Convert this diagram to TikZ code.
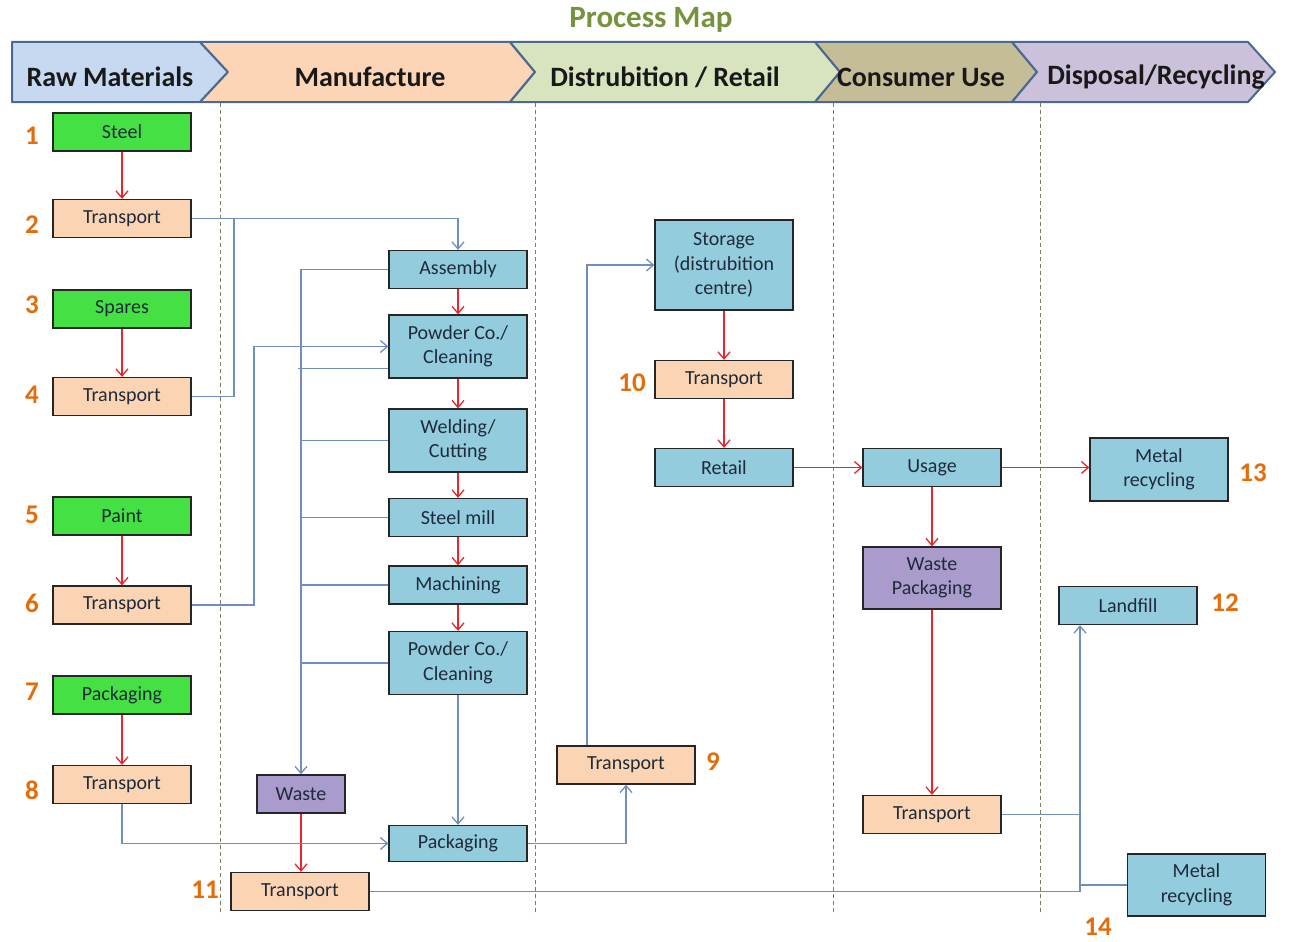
\documentclass[tikz,border=0pt]{standalone}
\usepackage{fontspec}
\setmainfont{Carlito}
\usetikzlibrary{arrows.meta,calc}
\definecolor{bxblue}{HTML}{93CDDD}
\definecolor{bxpeach}{HTML}{FBD4B4}
\definecolor{bxgreen}{HTML}{44E044}
\definecolor{bxpurple}{HTML}{A99BCC}
\definecolor{lnblue}{HTML}{6F8FBF}
\definecolor{lnred}{HTML}{E8262B}
\definecolor{numor}{HTML}{E46C0A}
\definecolor{titgreen}{HTML}{76923C}
\definecolor{hdblue}{HTML}{C6D9F1}
\definecolor{hdpeach}{HTML}{FBD5B5}
\definecolor{hdgreen}{HTML}{D7E4BD}
\definecolor{hdtan}{HTML}{C4BD97}
\definecolor{hdlav}{HTML}{CCC1DA}
\definecolor{hdline}{HTML}{4A6890}
\definecolor{txt}{HTML}{1F2A3A}
\definecolor{dashc}{HTML}{7F7F60}
\tikzset{
  bx/.style={draw=black!85, line width=1.3pt, text=txt, align=center, inner sep=2pt,
    font=\fontsize{20}{24.5}\selectfont, minimum width=138, minimum height=38},
  bblue/.style={bx, fill=bxblue},
  bpeach/.style={bx, fill=bxpeach},
  bgreen/.style={bx, fill=bxgreen},
  bpurple/.style={bx, fill=bxpurple},
  num/.style={text=numor, font=\fontsize{27}{27}\selectfont\bfseries, inner sep=0pt},
  hdtext/.style={text=black!90, font=\fontsize{28}{28}\selectfont\bfseries, inner sep=0pt},
  hd/.style={draw=hdline, line width=2pt, line join=round},
  bl/.style={draw=lnblue, line width=1.5pt},
  rd/.style={draw=lnred, line width=1.5pt},
  arr/.style={-{Straight Barb[length=7pt,width=12pt,line width=1.3pt]}},
  vdash/.style={draw=dashc, line width=1pt, dash pattern=on 4pt off 3pt}
}
\begin{document}
\begin{tikzpicture}[x=1pt,y=-1pt]
\useasboundingbox (0,0) rectangle (1290,942);
% title
\node[text=titgreen, font=\fontsize{31}{31}\selectfont\bfseries] (title) at (651,20) {Process Map};
% header chevrons
\path[hd, fill=hdblue] (12,42) -- (200,42) -- (228,72) -- (200,102) -- (12,102) -- cycle;
\path[hd, fill=hdpeach] (200,42) -- (510,42) -- (535,72) -- (510,102) -- (200,102) -- (228,72) -- cycle;
\path[hd, fill=hdgreen] (510,42) -- (815,42) -- (840,72) -- (815,102) -- (510,102) -- (535,72) -- cycle;
\path[hd, fill=hdtan] (815,42) -- (1012,42) -- (1037,72) -- (1012,102) -- (815,102) -- (840,72) -- cycle;
\path[hd, fill=hdlav] (1012,42) -- (1248,42) -- (1275,72) -- (1248,102) -- (1012,102) -- (1037,72) -- cycle;
\node[hdtext] (h1) at (110,77) {Raw Materials};
\node[hdtext] (h2) at (370,77) {Manufacture};
\node[hdtext] (h3) at (665,77) {Distrubition / Retail};
\node[hdtext] (h4) at (921,77) {Consumer Use};
\node[hdtext] (h5) at (1156,77) {Disposal/Recycling};
% dashed separators
\foreach \x in {220,535,833,1040} \draw[vdash] (\x,103) -- (\x,915);
% left column
\node[bgreen] (steel) at (122,132) {Steel};
\node[bpeach] (t2) at (122,218.5) {Transport};
\node[bgreen] (spares) at (122,309) {Spares};
\node[bpeach] (t4) at (122,396.5) {Transport};
\node[bgreen] (paint) at (122,516) {Paint};
\node[bpeach] (t6) at (122,605) {Transport};
\node[bgreen] (pack7) at (122,695) {Packaging};
\node[bpeach] (t8) at (122,784.5) {Transport};
\node[num] (n1) at (32,136) {1};
\node[num] (n2) at (32,225) {2};
\node[num] (n3) at (32,305) {3};
\node[num] (n4) at (32,395) {4};
\node[num] (n5) at (32,515) {5};
\node[num] (n6) at (32,603) {6};
\node[num] (n7) at (32,692) {7};
\node[num] (n8) at (32,790) {8};
% manufacture column
\node[bblue] (ass) at (458,269.5) {Assembly};
\node[bblue, minimum height=63] (pc1) at (458,346.5) {Powder Co./\\Cleaning};
\node[bblue, minimum height=63] (weld) at (458,440.5) {Welding/\\Cutting};
\node[bblue] (mill) at (458,517.5) {Steel mill};
\node[bblue] (mach) at (458,585) {Machining};
\node[bblue, minimum height=63] (pc2) at (458,663) {Powder Co./\\Cleaning};
\node[bblue, minimum height=36] (pkg) at (458,843.5) {Packaging};
\node[bpurple, minimum width=88] (waste) at (301,794) {Waste};
\node[bpeach] (t11) at (300,891.5) {Transport};
\node[num] (n11) at (205,890) {11};
% distribution column
\node[bblue, minimum height=90] (sto) at (724,265) {Storage\\(distrubition\\centre)};
\node[bpeach] (t10) at (724,379.5) {Transport};
\node[bblue] (ret) at (724,467.5) {Retail};
\node[bpeach] (t9) at (626,765) {Transport};
\node[num] (n10) at (632,383) {10};
\node[num] (n9) at (713,762) {9};
% consumer column
\node[bblue] (use) at (932,467.5) {Usage};
\node[bpurple, minimum height=62] (wp) at (932,578) {Waste\\Packaging};
\node[bpeach] (ct) at (932,814.5) {Transport};
% disposal column
\node[bblue, minimum height=63] (mr13) at (1159,469.5) {Metal\\recycling};
\node[bblue] (land) at (1128,605.5) {Landfill};
\node[bblue, minimum height=62] (mr14) at (1196.5,885) {Metal\\recycling};
\node[num] (n13) at (1253,473) {13};
\node[num] (n12) at (1225,603) {12};
\node[num] (n14) at (1098,927) {14};
% junction coordinates
\coordinate (j1) at (234,218.5);
\coordinate (c6) at (254,346.5);
\coordinate (wx) at (300,269.5);
\coordinate (j2) at (1080,891.5);
% red flow
\draw[rd,arr] (steel) -- (t2);
\draw[rd,arr] (spares) -- (t4);
\draw[rd,arr] (paint) -- (t6);
\draw[rd,arr] (pack7) -- (t8);
\draw[rd,arr] (ass) -- (pc1);
\draw[rd,arr] (pc1) -- (weld);
\draw[rd,arr] (weld) -- (mill);
\draw[rd,arr] (mill) -- (mach);
\draw[rd,arr] (mach) -- (pc2);
\draw[rd,arr] (waste.south) -- (waste.south |- t11.north);
\draw[rd,arr] (sto) -- (t10);
\draw[rd,arr] (t10) -- (ret);
\draw[rd,arr] (ret) -- (use);
\draw[rd,arr] (use.east) -- (use.east -| mr13.west);
\draw[rd,arr] (use) -- (wp);
\draw[rd,arr] (wp) -- (ct);
% blue flow
\draw[bl,arr] (t2.east) -| (ass.north);
\draw[bl] (t4.east) -| (j1);
\draw[bl,arr] (t6.east) -| (c6) -- (pc1.west);
\draw[bl,arr] (ass.west) -| (waste.north);
\draw[bl] ([yshift=10pt]pc1.south west) -- ++(-90,0);
\draw[bl] (weld.west) -- (weld.west -| wx);
\draw[bl] (mill.west) -- (mill.west -| wx);
\draw[bl] (mach.west) -- (mach.west -| wx);
\draw[bl] (pc2.west) -- (pc2.west -| wx);
\draw[bl,arr] (pc2) -- (pkg);
\draw[bl,arr] (t8.south) |- (pkg.west);
\draw[bl,arr] (pkg.east) -| (t9.south);
\draw[bl,arr] ([xshift=-39pt]t9.north) |- (sto.west);
\draw[bl,arr] (t11.east) -| ([xshift=-48pt]land.south);
\draw[bl] (ct.east) -- (ct.east -| j2);
\draw[bl] (mr14.west) -- (mr14.west -| j2);
\end{tikzpicture}
\end{document}
